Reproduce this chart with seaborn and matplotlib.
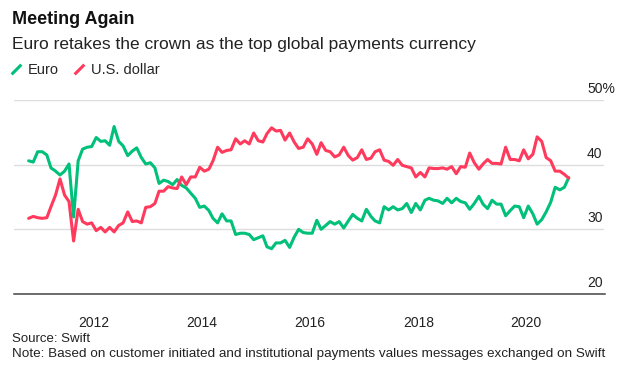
import matplotlib
matplotlib.use('Agg')
import matplotlib.pyplot as plt
import matplotlib.transforms as mtransforms
import matplotlib.dates as mdates
from matplotlib.lines import Line2D
import seaborn as sns
import pandas as pd

# share of global payments (%), monthly, Oct 2010 - Oct 2020
euro = [40.6, 40.4, 42.0, 42.0, 41.5, 39.5, 39.0, 38.4, 39.0, 40.1, 31.9, 40.6,
        42.4, 42.7, 42.8, 44.2, 43.6, 43.7, 43.0, 45.9, 43.6, 42.9, 41.4, 42.1,
        42.6, 41.1, 40.1, 40.3, 39.5, 37.1, 37.6, 37.4, 36.9, 37.7, 36.8, 36.4,
        35.6, 34.8, 33.4, 33.6, 32.9, 31.7, 31.0,
        32.4, 31.3, 31.3, 29.2, 29.4, 29.4, 29.2, 28.4, 28.7, 29.0, 27.3, 27.0,
        27.9, 27.9, 28.3, 27.2, 28.8, 30.0, 29.5, 29.4, 29.4, 31.4, 30.0, 30.6,
        31.2, 30.8, 31.2, 30.2, 31.3, 32.3, 31.7, 31.3, 33.1, 32.0, 31.3, 31.0,
        33.5, 33.0, 33.5, 33.0, 33.2, 34.0, 32.6, 34.0, 33.0,
        34.5, 34.8, 34.5, 34.4, 34.0, 34.8, 34.1, 34.8, 34.3, 34.1, 33.1, 34.0,
        35.1, 33.9, 33.2, 34.5, 33.9, 33.9, 32.1, 32.9, 33.6, 33.5, 31.8, 33.6,
        32.4, 30.8, 31.5, 32.7, 34.2, 36.5, 36.1, 36.5, 38.0]
usd = [31.7, 32.0, 31.8, 31.7, 31.8, 33.5, 35.3, 37.8, 35.3, 34.3, 28.2, 33.1,
       31.2, 30.8, 31.0, 29.8, 30.3, 29.6, 30.3, 29.6, 30.6, 31.0, 32.7, 31.2,
       31.3, 31.0, 33.4, 33.5, 34.0, 35.9, 35.9, 36.6, 36.4, 36.3, 38.1, 36.9,
       38.1, 38.1, 39.6, 39.0, 39.3, 40.6, 42.7,
       41.9, 42.2, 42.3, 44.0, 43.2, 43.7, 43.2, 44.9, 43.7, 43.5, 44.8, 45.7,
       45.2, 45.3, 43.8, 44.9, 43.5, 42.5, 42.7, 44.0, 43.2, 41.6, 43.4, 42.2,
       42.0, 41.2, 41.5, 42.7, 41.4, 40.7, 41.1, 42.3, 40.8, 41.0, 42.0, 42.3,
       40.7, 40.5, 39.9, 40.8, 39.9, 39.7, 39.5, 38.1, 38.8,
       38.1, 39.5, 39.4, 39.4, 39.5, 39.3, 39.7, 38.6, 39.7, 39.6, 41.8, 40.3,
       39.3, 40.1, 40.8, 40.2, 40.2, 40.1, 42.7, 40.8, 40.8, 40.6, 42.3, 40.9,
       41.6, 44.3, 43.6, 41.1, 40.6, 39.0, 39.0, 38.5, 37.9]
series_names = ['Euro', 'U.S. dollar']
colors = ['#00c07a', '#ff3a5c']
yticks = [20, 30, 40, 50]
ytick_labels = ['20', '30', '40', '50%']
xtick_years = [2012, 2014, 2016, 2018, 2020]

months = pd.date_range('2010-10-01', periods=len(euro), freq='MS') + pd.Timedelta(days=14)
df = pd.DataFrame({'date': list(months) * 2,
                   'share': euro + usd,
                   'currency': [series_names[0]] * len(euro) + [series_names[1]] * len(usd)})

sns.set_style('white')
plt.rcParams['font.family'] = ['Liberation Sans', 'DejaVu Sans']

fig = plt.figure(figsize=(6.4, 3.71), dpi=100)
ax = fig.add_axes([14 / 640, 1 - 294 / 371, (605 - 14) / 640, (294 - 100) / 371])

sns.lineplot(data=df, x='date', y='share', hue='currency', palette=colors,
             hue_order=series_names, linewidth=2.2, legend=False, ax=ax)

ax.set_ylim(20, 50)
ax.set_xlim(pd.Timestamp('2010-07-08'), pd.Timestamp('2021-06-17'))
ax.set_xlabel('')
ax.set_ylabel('')

# grid lines (not at the bottom, that's the axis line)
for v in yticks[1:]:
    ax.axhline(v, color='#dddddd', lw=1, zorder=0, xmax=0.997)

ax.yaxis.tick_right()
ax.set_yticks(yticks)
ax.set_yticklabels(ytick_labels)
ax.tick_params(axis='y', length=0, pad=0, labelsize=10, labelcolor='#222222')
shift = mtransforms.ScaledTranslation(-18 / 100, 12.5 / 100, fig.dpi_scale_trans)
for lab in ax.get_yticklabels():
    lab.set_transform(lab.get_transform() + shift)
    lab.set_horizontalalignment('left')

ax.set_xticks([pd.Timestamp(f'{y}-01-01') for y in xtick_years])
ax.xaxis.set_major_formatter(mdates.DateFormatter('%Y'))
ax.tick_params(axis='x', length=5, width=1, color='#444444', pad=11,
               labelsize=10, labelcolor='#222222')

for s in ['top', 'right', 'left']:
    ax.spines[s].set_visible(False)
ax.spines['bottom'].set_color('#444444')
ax.spines['bottom'].set_linewidth(1.1)

# titles
fig.text(12 / 640, 1 - 20 / 371, 'Meeting Again', fontsize=13, fontweight='bold',
         va='center', ha='left', color='#111111')
fig.text(12 / 640, 1 - 45 / 371, 'Euro retakes the crown as the top global payments currency',
         fontsize=12.5, va='center', ha='left', color='#222222')

handles = [Line2D([], [], color=c, marker=[(-1, -1), (1, 1)], linestyle='none',
                  markersize=7, markeredgewidth=2.2) for c in colors]
fig.legend(handles, series_names, loc='center left', bbox_to_anchor=(9 / 640, 1 - 70 / 371),
           ncol=2, frameon=False, fontsize=10.5, handlelength=1.0, handletextpad=0.3,
           columnspacing=0.9, borderpad=0, borderaxespad=0)

fig.text(12 / 640, 1 - 339 / 371, 'Source: Swift', fontsize=9.5, va='center', color='#222222')
fig.text(12 / 640, 1 - 354 / 371,
         'Note: Based on customer initiated and institutional payments values messages exchanged on Swift',
         fontsize=9.7, va='center', color='#222222')

fig.savefig('out.png', dpi=100)
